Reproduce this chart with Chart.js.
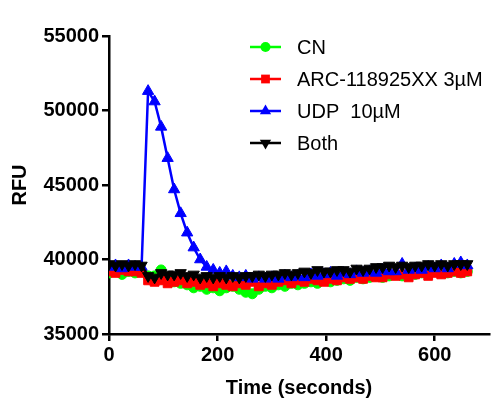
<!DOCTYPE html>
<html><head><meta charset="utf-8">
<style>html,body{margin:0;padding:0;background:#fff}#wrap{width:491px;height:405px;position:relative}</style>
<script src="https://cdn.jsdelivr.net/npm/chart.js@4.4.1/dist/chart.umd.min.js"></script>
</head><body><div id="wrap"><canvas id="c" width="491" height="405"></canvas></div>
<script>
const times = [0,12,24,36,48,60,72,84,96,108,120,132,144,156,168,180,192,204,216,228,240,252,264,276,288,300,312,324,336,348,360,372,384,396,408,420,432,444,456,468,480,492,504,516,528,540,552,564,576,588,600,612,624,636,648,660];
const cnValues = [39100,39200,39000,39200,39100,39200,38900,38900,39300,38800,38500,38400,38300,38100,38200,38000,38100,37900,38100,38200,38000,37800,37700,38000,38200,38100,38300,38200,38400,38300,38400,38500,38400,38600,38500,38600,38700,38600,38800,38700,38800,38900,38800,38900,39000,38900,39100,39000,39100,39000,39200,39100,39100,39200,39100,39200];
const arcValues = [39200,39100,39300,39200,39200,39100,38600,38500,38600,38400,38500,38600,38400,38500,38300,38400,38200,38400,38300,38200,38400,38300,38500,38200,38400,38300,38500,38600,38400,38600,38500,38700,38600,38500,38700,38600,38800,38700,38800,38700,38900,38800,38800,39000,38900,39000,38800,39000,39100,38900,39100,39000,39100,39200,39100,39200];
const udpValues = [39500,39600,39400,39600,39500,39500,51300,50600,48900,46800,44700,43100,41800,40800,40000,39500,39300,39100,39200,38900,38800,38900,38700,38800,38700,38800,38700,38900,38800,38900,38800,39000,38900,39000,39100,38900,39100,39000,39200,39100,39200,39100,39300,39200,39200,39700,39300,39400,39300,39500,39400,39600,39400,39700,39800,39600];
const bothValues = [39700,39600,39700,39600,39700,39600,38900,38800,39100,39000,39000,39100,38900,39000,38800,38900,38800,38900,38800,38900,38800,38900,38900,39000,38900,39000,39000,39100,39000,39100,39200,39100,39300,39200,39200,39300,39300,39200,39400,39300,39400,39500,39500,39600,39500,39600,39500,39600,39600,39700,39600,39700,39600,39700,39700,39700];
const seriesNames = ['CN','ARC-118925XX 3µM','UDP  10µM','Both'];
const seriesColors = ['#00ff00','#ff0000','#0000ff','#000000'];
const xTicks = [0,200,400,600];
const yTicks = [35000,40000,45000,50000,55000];

const FONT = '"Liberation Sans", Arial, Helvetica, sans-serif';
const styles = [
  {pointStyle:'circle', rotation:0, radius:5},
  {pointStyle:'rect', rotation:0, radius:6.2},
  {pointStyle:'triangle', rotation:0, radius:6.5},
  {pointStyle:'triangle', rotation:180, radius:6.5}
];
const allValues = [cnValues, arcValues, udpValues, bothValues];

const datasets = allValues.map((vals, k) => ({
  label: seriesNames[k],
  data: times.map((t, i) => ({x: t, y: vals[i]})),
  borderColor: seriesColors[k],
  backgroundColor: seriesColors[k],
  pointBackgroundColor: seriesColors[k],
  pointBorderColor: seriesColors[k],
  pointBorderWidth: 1,
  borderWidth: 2.5,
  pointStyle: styles[k].pointStyle,
  rotation: styles[k].rotation,
  pointRadius: styles[k].radius,
  tension: 0,
  order: 4 - k
}));

function drawMarker(ctx, style, color, x, y) {
  ctx.save();
  ctx.fillStyle = color; ctx.strokeStyle = color;
  const r = style.radius;
  ctx.beginPath();
  if (style.pointStyle === 'circle') {
    ctx.arc(x, y, r, 0, Math.PI * 2);
  } else if (style.pointStyle === 'rect') {
    const s = r * Math.SQRT1_2;
    ctx.rect(x - s, y - s, 2 * s, 2 * s);
  } else {
    const dir = style.rotation === 180 ? -1 : 1;
    ctx.moveTo(x, y - dir * r);
    ctx.lineTo(x - r * 0.866, y + dir * r * 0.5);
    ctx.lineTo(x + r * 0.866, y + dir * r * 0.5);
    ctx.closePath();
  }
  ctx.fill();
  ctx.restore();
}

const legendPlugin = {
  id: 'insideLegend',
  afterDraw(chart) {
    const ctx = chart.ctx;
    const area = chart.chartArea;
    const x0 = area.left + 141;
    const y0 = area.top + 11;
    const rowH = 32;
    ctx.save();
    seriesNames.forEach((name, k) => {
      const y = y0 + k * rowH;
      ctx.strokeStyle = seriesColors[k];
      ctx.lineWidth = 2.5;
      ctx.beginPath();
      ctx.moveTo(x0, y); ctx.lineTo(x0 + 31, y); ctx.stroke();
      drawMarker(ctx, styles[k], seriesColors[k], x0 + 15.5, y);
      ctx.fillStyle = '#000';
      ctx.font = '20px ' + FONT;
      ctx.textBaseline = 'middle';
      ctx.textAlign = 'left';
      ctx.fillText(name, x0 + 47, y + 1);
    });
    ctx.restore();
  }
};

new Chart(document.getElementById('c'), {
  type: 'line',
  data: {datasets},
  options: {
    responsive: false,
    devicePixelRatio: 1,
    animation: false,
    layout: {autoPadding: false, padding: {top: 36, right: 2, left: 0, bottom: 0}},
    plugins: {legend: {display: false}, tooltip: {enabled: false}},
    scales: {
      x: {
        type: 'linear', min: 0, max: 700,
        afterBuildTicks: s => { s.ticks = xTicks.map(v => ({value: v})); },
        afterFit: s => { s.height = 71; s.paddingRight = 0; s.paddingLeft = 0; },
        border: {display: true, color: '#000', width: 2.5},
        grid: {display: true, drawOnChartArea: false, drawTicks: true, tickLength: 7, color: '#000', lineWidth: 2.5},
        ticks: {color: '#000', font: {family: FONT, size: 20, weight: 'bold'}, padding: 2, maxRotation: 0, callback: v => String(v)},
        title: {display: true, text: 'Time (seconds)', color: '#000', font: {family: FONT, size: 20, weight: 'bold'}, padding: {top: 0, bottom: 5}}
      },
      y: {
        type: 'linear', min: 35000, max: 55000,
        afterBuildTicks: s => { s.ticks = yTicks.map(v => ({value: v})); },
        afterFit: s => { s.width = 109; },
        border: {display: true, color: '#000', width: 2.5},
        grid: {display: true, drawOnChartArea: false, drawTicks: true, tickLength: 7, color: '#000', lineWidth: 2.5},
        ticks: {color: '#000', font: {family: FONT, size: 20, weight: 'bold'}, padding: 3, callback: v => String(v)},
        title: {display: true, text: 'RFU', color: '#000', font: {family: FONT, size: 20, weight: 'bold'}, padding: {top: 8, bottom: 0}}
      }
    }
  },
  plugins: [legendPlugin]
});
</script>
</body></html>
